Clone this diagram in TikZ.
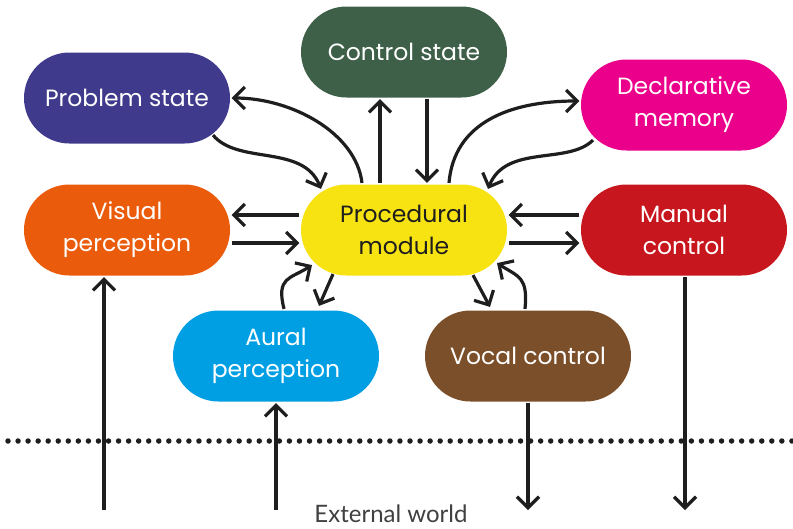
\documentclass[tikz,border=0pt]{standalone}
\usepackage{fontspec}
\setmainfont{Poppins}
\newfontfamily\worldfont{Lato}
\usetikzlibrary{arrows.meta}

\definecolor{ctrlgreen}{HTML}{3E6049}
\definecolor{probblue}{HTML}{3F3A8B}
\definecolor{declpink}{HTML}{EB008B}
\definecolor{visorange}{HTML}{EA5B0C}
\definecolor{procyellow}{HTML}{F7E312}
\definecolor{manred}{HTML}{C8161E}
\definecolor{aurblue}{HTML}{009FE3}
\definecolor{vocbrown}{HTML}{7B4F2A}
\definecolor{inkblack}{HTML}{1E1E1E}

\begin{document}
\begin{tikzpicture}
  [x=1pt, y=-1pt, line width=3.2pt, draw=inkblack,
   >={Straight Barb[length=11pt,width=22pt]},
   module/.style={rectangle, rounded corners=45.5pt, minimum width=206pt,
     minimum height=91pt, inner sep=0pt, align=center, text=white,
     font=\fontsize{23.5}{32}\selectfont}]
  \useasboundingbox (0,0) rectangle (793,528);

  \node[module, fill=ctrlgreen] (ctrl) at (404, 52) {Control state};
  \node[module, fill=probblue] (prob) at (127, 98) {Problem state};
  \node[module, fill=declpink] (decl) at (684, 105) {Declarative\\memory};
  \node[module, fill=visorange] (vis) at (127, 230) {Visual\\perception};
  \node[module, fill=procyellow, text=inkblack] (proc) at (404, 230) {Procedural\\module};
  \node[module, fill=manred] (man) at (684, 230) {Manual\\control};
  \node[module, fill=aurblue] (aur) at (276, 356) {Aural\\perception};
  \node[module, fill=vocbrown] (voc) at (528, 356) {Vocal control};

  % up to the buffers
  \draw[->] ([xshift=-24pt]proc.north) -- ([xshift=-24pt]ctrl.south);
  \draw[->] ([xshift=23pt]ctrl.south) -- ([xshift=23pt]proc.north);
  \draw[->] ([xshift=-42pt]proc.north) .. controls +(-6,-50) and +(60,0) .. (prob.east);
  \draw[->] ([shift={(86,-10)}]prob.south) .. controls +(25,30) and +(-18,-45) .. ([shift={(-83,6)}]proc.north);
  \draw[->] ([xshift=45pt]proc.north) .. controls +(5,-60) and +(-70,0) .. ([yshift=4pt]decl.west);
  \draw[->] ([shift={(-91,-12)}]decl.south) .. controls +(-25,25) and +(18,-45) .. ([shift={(84,6)}]proc.north);

  % left and right
  \draw[->] ([yshift=15pt]proc.west) -- ([yshift=15pt]vis.east);
  \draw[->] ([yshift=-13pt]vis.east) -- ([yshift=-13pt]proc.west);
  \draw[->] ([yshift=15pt]man.west) -- ([yshift=15pt]proc.east);
  \draw[->] ([yshift=-13pt]proc.east) -- ([yshift=-13pt]man.west);

  % down to the senses and effectors
  \draw[->] ([xshift=8pt]aur.north) .. controls +(-8,-32) and +(-22,14) .. ([shift={(-92,-12)}]proc.south);
  \draw[->] ([shift={(-71,-3)}]proc.south) -- ([shift={(43,-3)}]aur.north);
  \draw[->] ([shift={(69,-2)}]proc.south) -- ([shift={(-38,-2)}]voc.north);
  \draw[->] ([xshift=-3pt]voc.north) .. controls +(3,-32) and +(22,14) .. ([shift={(93,-14)}]proc.south);

  % external world
  \coordinate (dl) at (8, 441);
  \coordinate (dr) at (793, 441);
  \draw[line width=5.5pt, line cap=round, dash pattern=on 0pt off 10.05pt] (dl) -- (dr);
  \coordinate (wv) at (104, 510);
  \coordinate (wa) at (276, 510);
  \coordinate (wc) at (528, 510);
  \coordinate (wm) at (685, 510);
  \draw[->] (wv) -- ([xshift=-23pt]vis.south);
  \draw[->] (wa) -- (aur.south);
  \draw[->] (voc.south) -- (wc);
  \draw[->] ([xshift=1pt]man.south) -- (wm);
  \node[text=inkblack!85, font=\worldfont\fontsize{24}{24}\selectfont, anchor=base] (world) at (391, 522) {External world};
\end{tikzpicture}
\end{document}
